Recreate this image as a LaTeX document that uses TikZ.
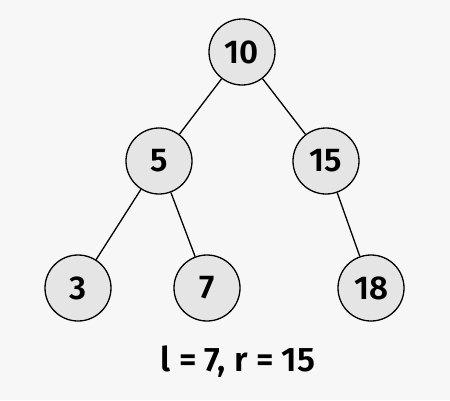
\documentclass[tikz,border=0pt]{standalone}
\usepackage{fontspec}
\setmainfont{Fira Sans SemiBold}
\begin{document}
\begin{tikzpicture}[x=1pt,y=-1pt,
  tn/.style={circle,draw=black,line width=1.3pt,fill=black!10,minimum size=66pt,inner sep=0pt,font=\fontsize{33}{40}\selectfont},
  edge/.style={line width=1.3pt,black}]
\fill[black!3] (0,0) rectangle (450,400);
\useasboundingbox (0,0) rectangle (450,400);
\node[tn] (n10) at (242,52) {10};
\node[tn] (n5) at (159,161) {5};
\node[tn] (n15) at (326,161) {15};
\node[tn] (n3) at (78,288) {3};
\node[tn] (n7) at (207,288) {7};
\node[tn] (n18) at (371,288) {18};
\draw[edge] (n10) -- (n5);
\draw[edge] (n10) -- (n15);
\draw[edge] (n5) -- (n3);
\draw[edge] (n5) -- (n7);
\draw[edge] (n15) -- (n18);
\node[font=\fontsize{34}{40}\selectfont] (lbl) at (238,362) {l = 7, r = 15};
\end{tikzpicture}
\end{document}
